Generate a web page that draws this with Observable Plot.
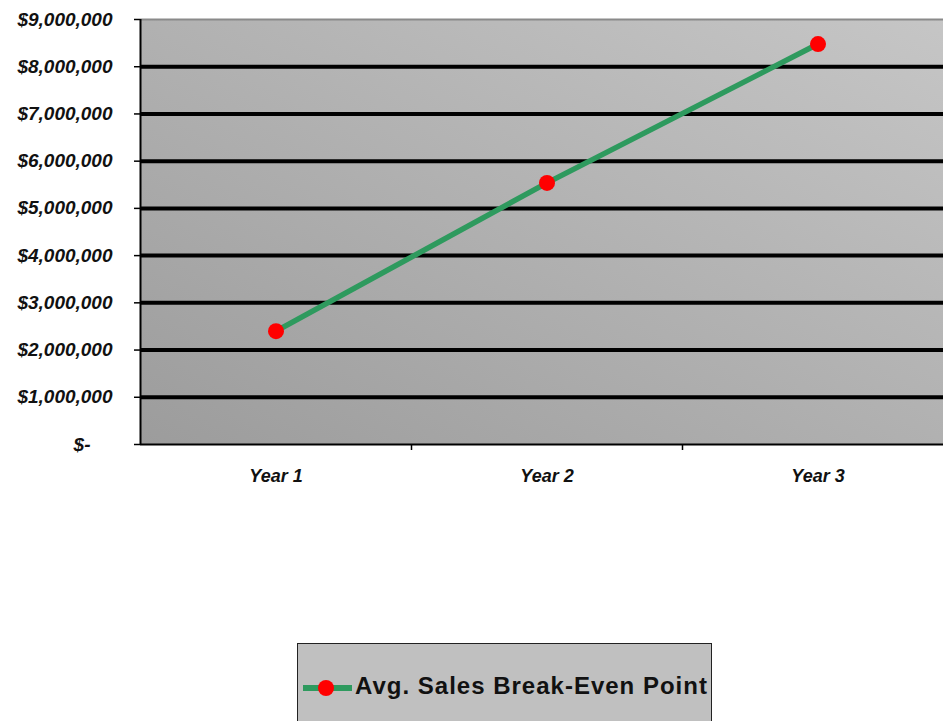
<!DOCTYPE html>
<html>
<head>
<meta charset="utf-8">
<script src="https://cdn.jsdelivr.net/npm/d3@7"></script>
<script src="https://cdn.jsdelivr.net/npm/@observablehq/plot@0.6"></script>
<style>
  body { margin: 0; background: #fff; font-family: "Liberation Sans", Arial, sans-serif; }
  #wrap { position: relative; width: 943px; height: 721px; overflow: hidden; }
  #chart { position: absolute; left: 0; top: 0; }
  #legend {
    position: absolute; left: 297px; top: 643px; width: 415px; height: 95px;
    background: #c0c0c0; border: 1.5px solid #222; box-sizing: border-box;
  }
  #legend svg { position: absolute; left: 2px; top: 30px; }
  #legend span {
    position: absolute; left: 57px; top: 28px; font-weight: bold; font-size: 24px; letter-spacing: 1px;
    color: #111; white-space: nowrap;
  }
</style>
</head>
<body>
<div id="wrap">
  <div id="chart"></div>
  <div id="legend">
    <svg width="56" height="28"><line x1="3" y1="14" x2="52" y2="14" stroke="#2e9a5e" stroke-width="6"/><circle cx="26" cy="14" r="8" fill="#ff0000"/></svg>
    <span>Avg. Sales Break-Even Point</span>
  </div>
</div>
<script>
const years = ["Year 1", "Year 2", "Year 3"];
const breakEven = [2400000, 5540000, 8480000];
const yTicks = [0, 1000000, 2000000, 3000000, 4000000, 5000000, 6000000, 7000000, 8000000, 9000000];
const seriesName = "Avg. Sales Break-Even Point";

const data = years.map((y, i) => ({year: y, value: breakEven[i]}));
const fmt = d => d === 0 ? "$-" : d3.format("$,")(d);
const band = (953 - 140) / years.length;

const chart = Plot.plot({
  width: 953,
  height: 500,
  marginLeft: 140, marginTop: 19, marginBottom: 56, marginRight: 0,
  style: {fontFamily: "'Liberation Sans', Arial, sans-serif", background: "transparent", overflow: "visible", maxWidth: "none"},
  x: {type: "band", domain: years, padding: 0, axis: null},
  y: {domain: [0, 9000000], axis: null},
  marks: [
    Plot.frame({fill: "url(#bg)", stroke: "none"}),
    Plot.ruleY(yTicks.filter(t => t > 0 && t < 9000000), {stroke: "#000", strokeWidth: 4}),
    Plot.ruleY([9000000], {stroke: "#8a8a8a", strokeWidth: 2}),
    Plot.ruleY([0], {stroke: "#000", strokeWidth: 2}),
    Plot.ruleX([years[0]], {dx: -band / 2, stroke: "#000", strokeWidth: 2}),
    Plot.axisY({ticks: yTicks, tickSize: 6, tickFormat: () => "", label: null, stroke: "#000", strokeWidth: 1.5}),
    Plot.axisX(years.slice(1), {tickSize: 6, tickFormat: () => "", label: null, dx: -band / 2, stroke: "#000", strokeWidth: 1.5}),
    Plot.text(yTicks.filter(t => t > 0), {y: d => d, text: fmt, frameAnchor: "left", dx: -28, textAnchor: "end",
      fontSize: 19, fontWeight: "bold", fontStyle: "italic", fill: "#111", letterSpacing: "1.4px"}),
    Plot.text([0], {y: d => d, text: fmt, frameAnchor: "left", dx: -50, textAnchor: "end",
      fontSize: 19, fontWeight: "bold", fontStyle: "italic", fill: "#111"}),
    Plot.text(years, {x: d => d, text: d => d, frameAnchor: "bottom", dy: 37, fontSize: 18,
      fontWeight: "bold", fontStyle: "italic", fill: "#111", letterSpacing: "0.5px"}),
    Plot.line(data, {x: "year", y: "value", stroke: "#2e9a5e", strokeWidth: 5.5}),
    Plot.dot(data, {x: "year", y: "value", r: 8, fill: "#ff0000", stroke: "none"})
  ]
});
d3.select(chart).insert("defs", ":first-child").html(
  `<linearGradient id="bg" x1="0" y1="1" x2="1" y2="0">
     <stop offset="0" stop-color="#9c9c9c"/>
     <stop offset="1" stop-color="#c6c6c6"/>
   </linearGradient>`);
document.getElementById("chart").appendChild(chart);
</script>
</body>
</html>
